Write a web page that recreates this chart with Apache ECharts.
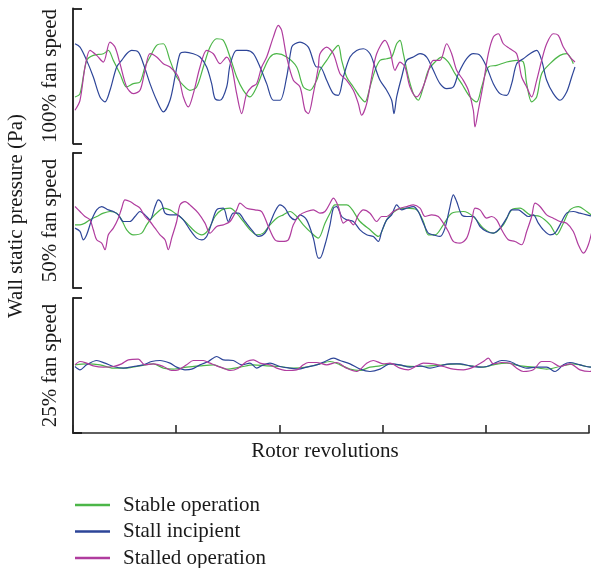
<!DOCTYPE html>
<html>
<head>
<meta charset="utf-8">
<script src="https://cdn.jsdelivr.net/npm/echarts@6/dist/echarts.min.js"></script>
<style>
html,body{margin:0;padding:0;background:#fff;}
#chart{width:594px;height:568px;}
</style>
</head>
<body>
<div id="chart"></div>
<script>
// x: sample position along rotor revolutions (0..1548 = 5 ticks), y: pressure fluctuation (arbitrary Pa units)
const xTickCount = 5;
const seriesNames = ['Stable operation', 'Stall incipient', 'Stalled operation'];
const panelNames = ['100% fan speed', '50% fan speed', '25% fan speed'];

const stable100 = [[6,-63],[21,-53],[41,47],[61,62],[91,67],[106,77],[121,47],[141,7],[161,-33],[181,-23],[201,-18],[216,27],[231,57],[251,92],[271,97],[291,47],[311,-3],[331,-28],[351,-43],[371,-33],[391,27],[411,87],[431,112],[451,107],[471,57],[491,-3],[511,-43],[531,-63],[551,-33],[571,17],[591,57],[611,67],[641,57],[671,27],[691,-33],[711,-43],[731,-13],[741,17],[761,47],[781,77],[796,92],[806,47],[821,-3],[841,-33],[861,-63],[876,-78],[891,-33],[906,17],[921,47],[941,52],[956,57],[971,97],[981,107],[991,67],[1006,-3],[1021,-53],[1036,-73],[1051,-33],[1066,17],[1086,42],[1106,57],[1126,42],[1146,7],[1166,-23],[1191,-63],[1211,-78],[1226,-33],[1246,27],[1271,32],[1301,42],[1331,47],[1351,42],[1361,-23],[1376,-78],[1391,-63],[1406,7],[1431,37],[1461,62],[1481,67],[1501,37]];
const incipient100 = [[6,97],[21,87],[41,47],[61,-3],[81,-63],[96,-78],[111,-43],[131,27],[146,47],[161,67],[176,77],[196,72],[211,37],[231,-23],[251,-73],[271,-108],[291,-73],[306,-3],[321,67],[336,72],[361,67],[381,57],[401,27],[416,-23],[426,-68],[441,-73],[461,-33],[471,32],[491,77],[521,77],[541,67],[561,27],[581,-23],[601,-73],[621,-73],[641,-3],[656,87],[666,97],[681,102],[706,87],[731,27],[741,27],[761,-13],[781,-53],[796,-58],[811,-3],[831,57],[851,77],[871,82],[891,67],[906,27],[921,-13],[941,-43],[956,-73],[963,-113],[971,-63],[986,-3],[1001,47],[1021,57],[1041,67],[1061,57],[1081,17],[1101,-23],[1121,-38],[1141,-33],[1156,7],[1181,52],[1201,67],[1221,62],[1241,27],[1261,-23],[1281,-53],[1301,-58],[1316,-23],[1331,37],[1351,52],[1371,67],[1391,77],[1406,47],[1421,-13],[1441,-53],[1461,-73],[1481,-48],[1496,-3],[1506,27]];
const stalled100 = [[6,-103],[21,-73],[36,27],[51,77],[71,62],[91,42],[111,102],[126,87],[141,37],[161,-33],[181,-53],[201,-43],[216,17],[231,67],[251,57],[271,37],[291,27],[316,-3],[331,-63],[346,-93],[361,-53],[381,27],[401,77],[421,67],[441,37],[461,57],[476,27],[491,-53],[506,-113],[521,-53],[536,-33],[551,-23],[566,27],[581,57],[601,117],[616,152],[626,137],[641,57],[661,-13],[681,-33],[696,-103],[706,-113],[721,-53],[736,27],[741,67],[761,87],[781,67],[801,7],[821,-13],[841,-43],[856,-83],[866,-118],[881,-83],[896,-3],[911,67],[936,107],[951,77],[966,17],[981,42],[996,27],[1011,-33],[1031,-63],[1046,-43],[1061,-3],[1081,47],[1101,47],[1121,97],[1136,67],[1151,17],[1171,-13],[1186,-43],[1201,-103],[1206,-153],[1216,-103],[1231,-23],[1246,67],[1261,117],[1276,127],[1291,97],[1311,82],[1331,67],[1346,-3],[1361,-33],[1376,-63],[1391,-13],[1406,47],[1421,97],[1441,127],[1456,122],[1471,87],[1491,57],[1506,42]];

const stable50 = [[6,-13],[21,-13],[36,-8],[51,2],[71,12],[91,22],[111,27],[131,22],[146,2],[161,-28],[181,-43],[206,-38],[221,-13],[236,7],[256,27],[271,37],[291,32],[306,22],[326,7],[346,-13],[366,-33],[386,-43],[406,-28],[426,12],[446,32],[471,37],[491,22],[511,-3],[531,-28],[551,-43],[571,-38],[591,-13],[611,7],[631,17],[651,27],[671,12],[691,-13],[716,-38],[736,-53],[756,-8],[771,22],[786,47],[821,47],[861,-3],[891,-28],[916,-48],[941,2],[971,32],[1001,37],[1031,32],[1051,-3],[1066,-43],[1086,-43],[1111,-13],[1136,22],[1171,27],[1201,12],[1231,-23],[1261,-38],[1291,-13],[1316,32],[1341,37],[1371,17],[1401,12],[1431,-13],[1451,-43],[1471,-8],[1491,32],[1516,42],[1541,27],[1561,12]];
const incipient50 = [[6,-23],[21,-33],[31,-58],[41,-43],[56,2],[71,32],[86,42],[106,32],[121,27],[136,17],[151,-3],[171,-3],[186,12],[201,27],[216,17],[231,2],[246,42],[256,62],[266,52],[276,22],[291,17],[311,17],[331,2],[351,-28],[371,-53],[386,-58],[401,-48],[416,-8],[431,32],[451,37],[466,-3],[481,22],[496,22],[516,-3],[536,-28],[556,-48],[576,-38],[591,-8],[606,27],[621,47],[636,37],[651,12],[666,2],[681,17],[701,2],[721,-53],[736,-113],[741,-113],[756,-73],[771,-13],[781,37],[791,42],[806,12],[821,2],[841,-3],[861,-28],[881,-43],[901,-48],[916,-63],[926,-33],[941,2],[956,17],[971,47],[986,32],[1001,37],[1021,42],[1036,27],[1051,-8],[1066,-38],[1081,-43],[1101,-48],[1116,-23],[1131,42],[1141,77],[1151,57],[1166,17],[1181,12],[1201,12],[1221,-18],[1241,-33],[1261,-38],[1281,-23],[1301,7],[1316,32],[1336,32],[1351,22],[1366,12],[1381,17],[1396,-8],[1411,-28],[1431,-43],[1446,-38],[1461,-13],[1481,22],[1501,27],[1521,22],[1541,17],[1561,12]];
const stalled50 = [[6,42],[21,27],[36,12],[51,2],[61,-28],[71,-58],[86,-68],[96,-88],[106,-43],[121,-23],[136,7],[146,37],[156,62],[171,57],[186,47],[201,37],[216,12],[231,-3],[246,-23],[261,-43],[276,-58],[286,-88],[296,-53],[311,-3],[321,47],[336,57],[356,42],[376,22],[396,-8],[411,-38],[431,-18],[451,-13],[471,-3],[491,32],[501,52],[521,37],[546,32],[566,27],[586,-18],[606,-58],[626,-63],[646,-58],[661,-13],[681,17],[701,27],[721,32],[741,22],[756,27],[771,52],[781,67],[796,42],[811,-8],[826,2],[841,-13],[856,17],[871,32],[891,22],[911,-3],[926,12],[941,12],[961,27],[981,37],[1001,42],[1021,47],[1041,37],[1056,12],[1076,17],[1096,12],[1111,-8],[1126,-33],[1141,-63],[1161,-68],[1181,-53],[1196,-3],[1206,37],[1221,32],[1241,7],[1256,12],[1271,2],[1286,-28],[1306,-58],[1326,-63],[1346,-73],[1361,-33],[1376,12],[1386,52],[1401,42],[1421,17],[1441,7],[1461,-3],[1481,-8],[1501,-33],[1516,-73],[1531,-98],[1546,-73],[1561,-13]];

const stable25 = [[6,2],[41,5],[81,2],[121,-8],[161,-8],[201,-1],[241,5],[271,-8],[301,-11],[341,-5],[381,-1],[421,2],[461,-11],[501,-5],[541,2],[581,-1],[621,-3],[661,-8],[701,-5],[741,5],[771,12],[801,2],[831,-11],[861,-15],[891,-5],[921,-1],[951,5],[991,-1],[1031,-3],[1071,-1],[1111,2],[1151,5],[1191,-1],[1231,-5],[1261,2],[1301,7],[1341,-1],[1381,-5],[1421,-11],[1461,-3],[1501,5],[1541,-3],[1561,-5]];
const incipient25 = [[6,-3],[21,-13],[41,2],[71,15],[96,7],[121,-3],[151,-8],[181,-3],[211,2],[236,12],[261,15],[291,7],[311,-5],[336,-13],[356,-11],[381,2],[406,12],[431,27],[451,17],[481,15],[506,2],[531,7],[551,-8],[571,2],[591,7],[621,-3],[651,-8],[676,-11],[701,-5],[731,2],[756,12],[781,22],[801,15],[831,5],[861,-11],[891,-18],[921,-11],[951,5],[981,2],[1011,-5],[1041,-1],[1071,-8],[1101,-1],[1131,5],[1161,5],[1191,-1],[1221,-5],[1241,-3],[1261,5],[1286,15],[1311,12],[1331,2],[1361,-8],[1391,-5],[1421,-5],[1446,-18],[1471,2],[1491,9],[1521,2],[1551,-5],[1561,-5]];
const stalled25 = [[6,2],[21,12],[41,7],[61,-1],[91,-5],[121,-3],[146,5],[166,17],[196,19],[216,2],[241,5],[271,-3],[296,-15],[316,-13],[341,2],[361,15],[391,15],[411,7],[431,-1],[451,-8],[471,-15],[496,-8],[521,12],[541,17],[561,7],[591,2],[611,-8],[641,-15],[671,-13],[691,2],[706,9],[731,9],[761,2],[791,9],[821,-8],[851,-18],[881,7],[901,15],[931,5],[951,7],[981,-8],[1006,-13],[1031,-1],[1051,7],[1081,5],[1111,-3],[1141,-11],[1171,-13],[1201,-5],[1231,12],[1246,22],[1261,5],[1286,9],[1311,7],[1331,-8],[1351,-18],[1381,-13],[1406,12],[1431,12],[1461,-3],[1491,5],[1521,-13],[1551,-18],[1561,-13]];

const panelData = [
  [stable100, incipient100, stalled100],
  [stable50, incipient50, stalled50],
  [stable25, incipient25, stalled25]
];
const colors = ['#4cb648', '#2d4598', '#b03c9e'];
const xMax = 1548;
const yMin = -203, yMax = 203;
const FONT = '"Liberation Serif", "DejaVu Serif", serif';
const FS = 21;

const chart = echarts.init(document.getElementById('chart'), null, {renderer: 'canvas'});
const grids = [], xAxes = [], yAxes = [], series = [];
const tops = [8.5, 153, 298];
for (let i = 0; i < 3; i++) {
  grids.push({left: 73, top: tops[i], width: 516, height: 135});
  const isBottom = i === 2;
  xAxes.push({
    gridIndex: i, type: 'value', min: 0, max: xMax, interval: xMax / xTickCount,
    show: isBottom,
    axisLine: {show: true, onZero: false, lineStyle: {color: '#2a2a2a', width: 1.6}},
    axisTick: {show: true, inside: true, length: 8, lineStyle: {color: '#2a2a2a', width: 1.6}},
    axisLabel: {show: false}, splitLine: {show: false},
    name: isBottom ? 'Rotor revolutions' : '', nameLocation: 'middle', nameGap: 8,
    nameTextStyle: {fontFamily: FONT, fontSize: FS, color: '#1a1a1a', verticalAlign: 'top', padding: [0, 12, 0, 0]}
  });
  yAxes.push({
    gridIndex: i, type: 'value', min: yMin, max: yMax, interval: yMax - yMin,
    axisLine: {show: true, onZero: false, lineStyle: {color: '#1a1a1a', width: 1.8}},
    axisTick: {show: true, inside: true, length: 9, lineStyle: {color: '#1a1a1a', width: 1.8}},
    axisLabel: {show: false}, splitLine: {show: false},
    name: panelNames[i], nameLocation: 'middle', nameGap: 12, nameRotate: 90,
    nameTextStyle: {fontFamily: FONT, fontSize: FS, color: '#1a1a1a'}
  });
  for (let s = 0; s < 3; s++) {
    series.push({
      type: 'line', name: seriesNames[s], xAxisIndex: i, yAxisIndex: i,
      data: panelData[i][s], showSymbol: false, symbol: 'none', clip: false,
      smooth: 0.3, color: colors[s],
      lineStyle: {width: 1.2, color: colors[s]}, z: 2 + s
    });
  }
}

chart.setOption({
  animation: false,
  backgroundColor: '#ffffff',
  grid: grids, xAxis: xAxes, yAxis: yAxes, series: series,
  legend: {
    data: seriesNames, orient: 'vertical', left: 75, top: 494, height: 80, padding: 0,
    icon: 'rect', itemWidth: 35, itemHeight: 2.5, itemGap: 4.5,
    textStyle: {fontFamily: FONT, fontSize: FS, color: '#1a1a1a', lineHeight: 22, padding: [0, 0, 0, 8]}
  },
  graphic: [{
    type: 'text', x: 16, y: 216, rotation: Math.PI / 2,
    style: {text: 'Wall static pressure (Pa)', font: FS + 'px ' + FONT, fill: '#1a1a1a', textAlign: 'center', textVerticalAlign: 'middle'}
  }]
});
</script>
</body>
</html>
